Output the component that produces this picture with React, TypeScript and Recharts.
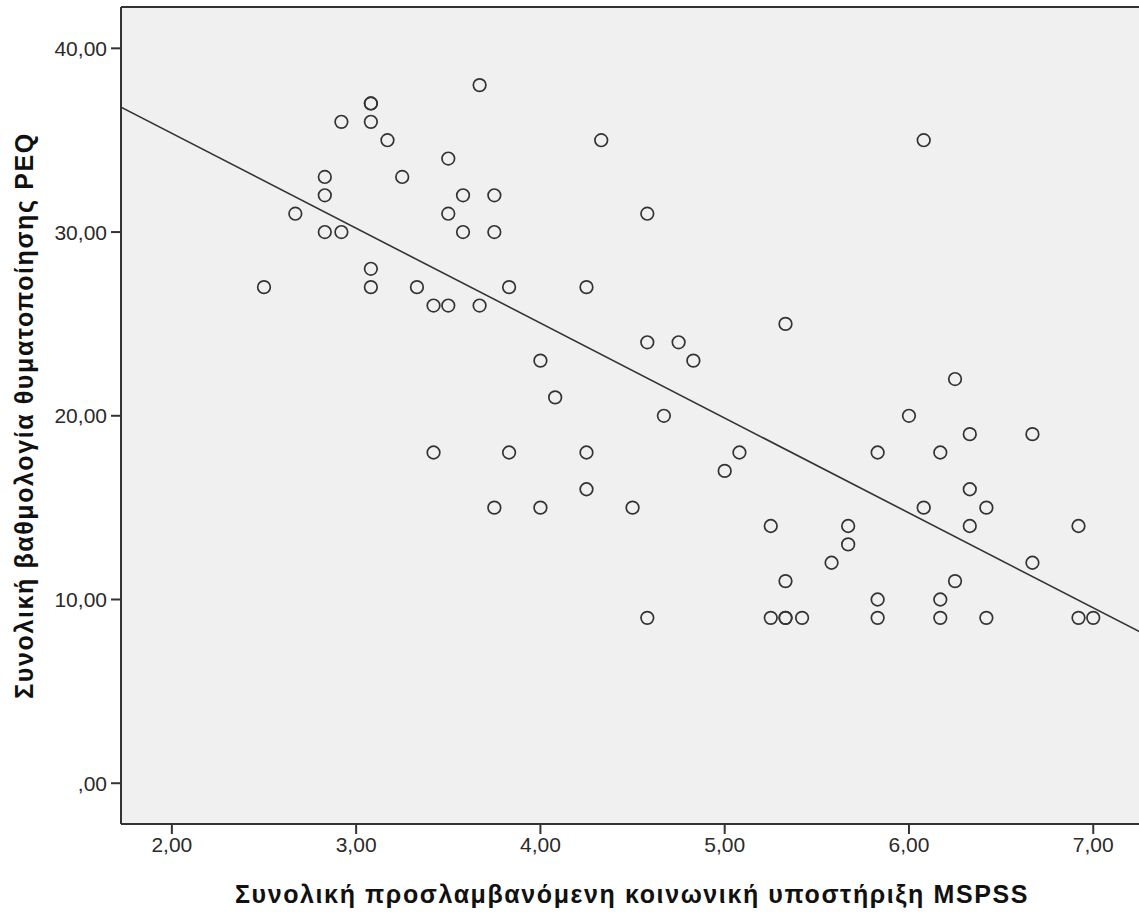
import { CartesianGrid, ReferenceLine, Scatter, ScatterChart, XAxis, YAxis } from "recharts"

// MSPSS (x) vs PEQ (y)
const mspss = [
  2.5, 2.67, 2.83, 2.83, 2.83, 2.92, 2.92, 3.08, 3.08, 3.08, 3.08, 3.08, 3.17, 3.25, 3.33, 3.42, 3.42,
  3.5, 3.5, 3.5, 3.58, 3.58, 3.67, 3.67, 3.75, 3.75, 3.75, 3.83, 3.83, 4.0, 4.0, 4.08, 4.25, 4.25, 4.25,
  4.33, 4.5, 4.58, 4.58, 4.58, 4.67, 4.75, 4.83, 5.0, 5.08, 5.25, 5.25, 5.33, 5.33, 5.33, 5.33, 5.42,
  5.58, 5.67, 5.67, 5.83, 5.83, 5.83, 6.0, 6.08, 6.08, 6.17, 6.17, 6.17, 6.25, 6.25, 6.33, 6.33, 6.33,
  6.42, 6.42, 6.67, 6.67, 6.92, 6.92, 7.0,
]
const peq = [
  27, 31, 33, 32, 30, 36, 30, 37, 37, 36, 28, 27, 35, 33, 27, 26, 18,
  34, 31, 26, 32, 30, 38, 26, 32, 30, 15, 27, 18, 23, 15, 21, 27, 18, 16,
  35, 15, 31, 24, 9, 20, 24, 23, 17, 18, 14, 9, 25, 11, 9, 9, 9,
  12, 14, 13, 18, 10, 9, 20, 35, 15, 18, 10, 9, 22, 11, 19, 16, 14,
  15, 9, 19, 12, 14, 9, 9,
]

// fit line end points (at the plot edges)
const fitX = [1.724, 7.27]
const fitY = [36.8, 8.15]

const xTicks = [2, 3, 4, 5, 6, 7]
const yTicks = [0, 10, 20, 30, 40]

const xDomain = [1.724, 7.27]
const yDomain = [-2.22, 42.25]

const points = mspss.map((x, i) => ({ x, y: peq[i] }))
const fitLine = fitX.map((x, i) => ({ x, y: fitY[i] }))

const fmt = (v: number) => (v === 0 ? ",00" : v.toFixed(2).replace(".", ","))

const ink = "#333333"
const font = "'Liberation Sans', Arial, sans-serif"
const titleStyle = { fill: "#111", fontSize: 25, fontWeight: "bold", fontFamily: font, letterSpacing: 1.6 }

const Ring = (props: any) => {
  const { cx, cy } = props
  if (cx == null || cy == null) return null
  return <circle cx={cx} cy={cy} r={6.3} fill="none" stroke={ink} strokeWidth={1.7} />
}

const App = () => {
  return (
    <div style={{ position: "absolute", left: 0, top: 0, width: 1139, height: 915, overflow: "hidden", background: "#fff" }}>
      <ScatterChart width={1143} height={915} margin={{ top: 7, right: 0, bottom: 0, left: 0 }}>
        <CartesianGrid horizontal={false} vertical={false} fill="#f0f0f0" />
        <XAxis
          type="number"
          dataKey="x"
          domain={xDomain}
          ticks={xTicks}
          tickFormatter={fmt}
          allowDataOverflow
          height={91}
          tickSize={10}
          tickMargin={3}
          axisLine={{ stroke: ink, strokeWidth: 2 }}
          tickLine={{ stroke: ink, strokeWidth: 2 }}
          tick={{ fill: "#2a2a2a", fontSize: 21, fontFamily: font }}
          label={{
            value: "Συνολική προσλαμβανόμενη κοινωνική υποστήριξη MSPSS",
            position: "insideBottom",
            offset: 12,
            style: titleStyle,
          }}
        />
        <YAxis
          type="number"
          dataKey="y"
          domain={yDomain}
          ticks={yTicks}
          tickFormatter={fmt}
          allowDataOverflow
          width={121}
          tickSize={10}
          tickMargin={4}
          axisLine={{ stroke: ink, strokeWidth: 2 }}
          tickLine={{ stroke: ink, strokeWidth: 2 }}
          tick={{ fill: "#2a2a2a", fontSize: 21, fontFamily: font }}
          label={{
            value: "Συνολική βαθμολογία θυματοποίησης PEQ",
            angle: -90,
            position: "insideLeft",
            offset: 24,
            style: { ...titleStyle, textAnchor: "middle" },
          }}
        />
        <ReferenceLine y={yDomain[1]} stroke={ink} strokeWidth={2} />
        <Scatter
          data={fitLine}
          line={{ stroke: ink, strokeWidth: 1.6 }}
          shape={() => null}
          legendType="none"
          isAnimationActive={false}
        />
        <Scatter data={points} shape={Ring} isAnimationActive={false} />
      </ScatterChart>
    </div>
  )
}

export default App
